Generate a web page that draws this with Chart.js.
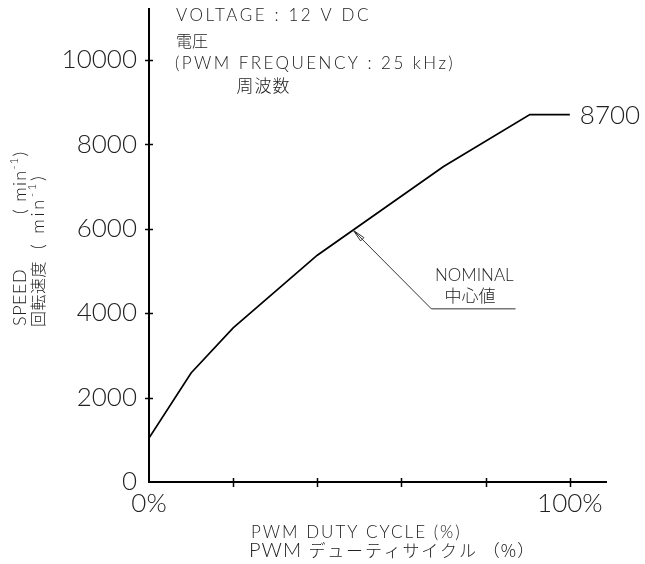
<!DOCTYPE html>
<html>
<head>
<meta charset="utf-8">
<script src="https://cdn.jsdelivr.net/npm/chart.js@4.4.1/dist/chart.umd.min.js"></script>
<style>
  html, body { margin: 0; padding: 0; background: #fff; }
  #wrap { width: 645px; height: 564px; }
</style>
</head>
<body>
<div id="wrap"><canvas id="c" width="645" height="564"></canvas></div>
<script>
// Fan speed vs. PWM duty cycle (nominal curve)
const dutyCycle = [0, 10, 20, 40, 70, 90.5, 100];          // %
const speed     = [1040, 2580, 3650, 5370, 7470, 8700, 8700]; // min-1
const yTickValues = [0, 2000, 4000, 6000, 8000, 10000];
const xTickValues = [0, 20, 40, 60, 80, 100];
const xTickLabels = ['0%', '', '', '', '', '100%'];
const nominalDuty = 48.5;   // where the NOMINAL leader points on the curve

const LATIN = 'Lato, "Liberation Sans", "Noto Sans CJK JP", sans-serif';
const CJK = '"Noto Sans CJK JP", "Liberation Sans", sans-serif';
const TEXT = '#222';
const NOTE = '#222';
const W = '300';

function speedAt(d) {
  for (let i = 1; i < dutyCycle.length; i++) {
    if (d <= dutyCycle[i]) {
      const t = (d - dutyCycle[i - 1]) / (dutyCycle[i] - dutyCycle[i - 1]);
      return speed[i - 1] + t * (speed[i] - speed[i - 1]);
    }
  }
  return speed[speed.length - 1];
}

// draw a run of text pieces; pieces marked sup are drawn small and raised
function drawRun(ctx, x, y, pieces, size, family, spacing) {
  let cx = x;
  pieces.forEach(p => {
    const s = p.size || (p.sup ? Math.round(size * 0.62) : size);
    const fam = p.family || family;
    ctx.font = `${W} ${s}px ${fam}`;
    ctx.letterSpacing = (p.spacing !== undefined ? p.spacing : spacing) + 'px';
    ctx.fillText(p.t, cx, p.sup ? y - size * 0.42 : y);
    cx += ctx.measureText(p.t).width;
  });
  ctx.letterSpacing = '0px';
}

const overlay = {
  id: 'overlay',
  afterDraw(chart) {
    const { ctx, scales: { x, y }, chartArea: a } = chart;
    ctx.save();

    // tick marks crossing both axes
    ctx.strokeStyle = '#000';
    ctx.lineWidth = 1.5;
    yTickValues.filter(v => v > 0).forEach(v => {
      const py = Math.round(y.getPixelForValue(v)) + 0.5;
      ctx.beginPath(); ctx.moveTo(a.left - 4, py); ctx.lineTo(a.left + 4, py); ctx.stroke();
    });
    xTickValues.filter(v => v > 0).forEach(v => {
      const px = Math.round(x.getPixelForValue(v)) + 0.5;
      ctx.beginPath(); ctx.moveTo(px, a.bottom - 4); ctx.lineTo(px, a.bottom + 5); ctx.stroke();
    });

    ctx.fillStyle = TEXT;
    ctx.textAlign = 'left';

    // maximum-speed label at the end of the plateau
    const last = speed.length - 1;
    ctx.textBaseline = 'middle';
    ctx.font = `${W} 26px ${LATIN}`;
    ctx.fillText(String(speed[last]), x.getPixelForValue(dutyCycle[last]) + 10, y.getPixelForValue(speed[last]) + 1);

    ctx.fillStyle = NOTE;
    // operating conditions
    ctx.textBaseline = 'alphabetic';
    const cx0 = x.getPixelForValue(6.4);
    drawRun(ctx, cx0, y.getPixelForValue(10923), [{ t: 'VOLTAGE : 12 V DC' }], 17, LATIN, 2.6);
    drawRun(ctx, cx0, y.getPixelForValue(10300), [{ t: '電圧' }], 16, CJK, 0);
    drawRun(ctx, cx0 - 1, y.getPixelForValue(9780), [{ t: '(PWM FREQUENCY : 25 kHz)' }], 17, LATIN, 2.45);
    drawRun(ctx, x.getPixelForValue(20.8), y.getPixelForValue(9235), [{ t: '周波数' }], 17, CJK, 1);

    // NOMINAL leader with arrow
    const tx = x.getPixelForValue(nominalDuty), ty = y.getPixelForValue(speedAt(nominalDuty));
    const ex = x.getPixelForValue(67.1), ey = y.getPixelForValue(4100);
    const fx = x.getPixelForValue(87.1);
    ctx.strokeStyle = '#333';
    ctx.lineWidth = 1;
    ctx.beginPath(); ctx.moveTo(tx, ty); ctx.lineTo(ex, ey); ctx.lineTo(fx, ey); ctx.stroke();
    const len = Math.hypot(ex - tx, ey - ty);
    const ux = (ex - tx) / len, uy = (ey - ty) / len;
    const nx = -uy, ny = ux;
    ctx.beginPath();
    ctx.moveTo(tx, ty);
    ctx.lineTo(tx + ux * 13 + nx * 2.3, ty + uy * 13 + ny * 2.3);
    ctx.lineTo(tx + ux * 13 - nx * 2.3, ty + uy * 13 - ny * 2.3);
    ctx.closePath();
    ctx.stroke();

    ctx.textAlign = 'center';
    ctx.font = `${W} 17px ${LATIN}`;
    ctx.fillText('NOMINAL', x.getPixelForValue(77.3), y.getPixelForValue(4769));
    ctx.font = `${W} 17px ${CJK}`;
    ctx.fillText('中心値', x.getPixelForValue(76.3), y.getPixelForValue(4265));
    ctx.textAlign = 'left';

    // x-axis title
    drawRun(ctx, 251, 538, [{ t: 'PWM DUTY CYCLE (%)' }], 17, LATIN, 2);
    drawRun(ctx, 249, 557, [
      { t: 'PWM ', spacing: 1 },
      { t: 'デューティサイクル', family: CJK, size: 17, spacing: 1.8 },
      { t: ' （%）', family: CJK, size: 17, spacing: 1.2 }
    ], 20, LATIN, 1);

    // y-axis title (two rotated lines)
    ctx.save();
    ctx.translate(26, 326);
    ctx.rotate(-Math.PI / 2);
    drawRun(ctx, 0, 0, [{ t: 'SPEED' }], 18, LATIN, 0.5);
    drawRun(ctx, 112, 0, [{ t: '( min' }, { t: '-1', sup: true }, { t: ')' }], 18, LATIN, 1.3);
    ctx.restore();
    ctx.save();
    ctx.translate(44, 327);
    ctx.rotate(-Math.PI / 2);
    drawRun(ctx, 0, 0, [{ t: '回転速度' }], 16, CJK, 0.5);
    drawRun(ctx, 78, 0, [{ t: '( min' }, { t: '-1', sup: true }, { t: ')' }], 18, LATIN, 2.8);
    ctx.restore();

    ctx.restore();
  }
};

// keep the plot area fixed: no extra room for half-labels at the axis ends
function noEdgePadding(s) {
  s.paddingTop = 0; s.paddingBottom = 0; s.paddingLeft = 0; s.paddingRight = 0;
}

new Chart(document.getElementById('c'), {
  type: 'line',
  data: {
    datasets: [{
      data: dutyCycle.map((d, i) => ({ x: d, y: speed[i] })),
      borderColor: '#000',
      borderWidth: 1.7,
      pointRadius: 0,
      tension: 0,
      fill: false
    }]
  },
  options: {
    responsive: false,
    animation: false,
    devicePixelRatio: 1,
    layout: { padding: { top: 9, right: 39, left: 0, bottom: 0 } },
    plugins: { legend: { display: false }, tooltip: { enabled: false } },
    scales: {
      x: {
        type: 'linear',
        min: 0,
        max: 108.6,
        afterBuildTicks: s => { s.ticks = xTickValues.map(v => ({ value: v })); },
        afterFit: s => { s.height = 82; noEdgePadding(s); },
        grid: { display: false, drawTicks: false },
        border: { display: true, color: '#000', width: 2 },
        ticks: {
          padding: 6,
          maxRotation: 0,
          autoSkip: false,
          color: TEXT,
          font: { family: LATIN, size: 26, weight: W },
          callback: (v, i) => xTickLabels[i]
        }
      },
      y: {
        min: 0,
        max: 11200,
        afterBuildTicks: s => { s.ticks = yTickValues.map(v => ({ value: v })); },
        afterFit: s => { s.width = 149; noEdgePadding(s); },
        grid: { display: false, drawTicks: false },
        border: { display: true, color: '#000', width: 2 },
        ticks: {
          padding: 12,
          color: TEXT,
          font: { family: LATIN, size: 26, weight: W },
          callback: v => String(v)
        }
      }
    }
  },
  plugins: [overlay]
});
</script>
</body>
</html>
